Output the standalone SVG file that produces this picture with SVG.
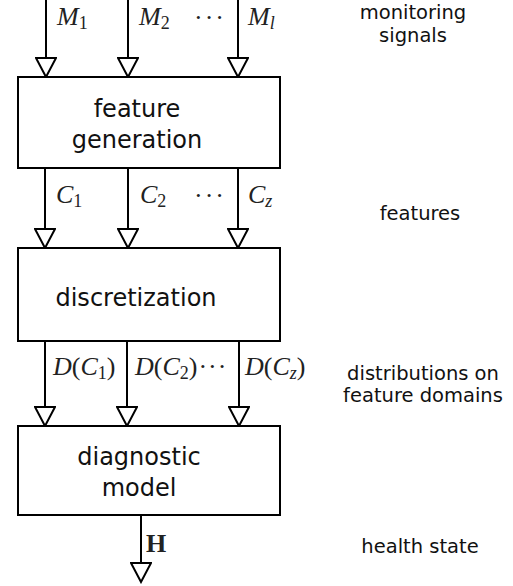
<svg xmlns="http://www.w3.org/2000/svg" width="513" height="586" viewBox="0 0 513 586">
<style>
.box{fill:#fff;stroke:#000;stroke-width:2}
.conn{stroke:#000;stroke-width:2;fill:none;marker-end:url(#tri)}
.lbl{font-family:"DejaVu Sans",sans-serif;font-size:24px;fill:#111;text-anchor:middle}
.side{font-family:"DejaVu Sans",sans-serif;font-size:19.5px;fill:#111;text-anchor:middle}
.math{font-family:"Liberation Serif",serif;font-size:26px;fill:#222;font-style:italic}
.sub{font-size:18px;font-style:normal}
.subi{font-size:18px;font-style:italic}
.up{font-style:normal}
</style>
<defs>
<marker id="tri" viewBox="-1 -11 22 22" refX="19" refY="0" markerWidth="22" markerHeight="22" markerUnits="userSpaceOnUse" orient="auto">
<path d="M0,-10 L0,10 L19,0 Z" fill="#fff" stroke="#000" stroke-width="2" stroke-linejoin="miter"/>
</marker>
</defs>
<g id="connectors">
<line class="conn" x1="46" y1="0" x2="46" y2="77"/>
<line class="conn" x1="128" y1="0" x2="128" y2="77"/>
<line class="conn" x1="238" y1="0" x2="238" y2="77"/>
<line class="conn" x1="45" y1="168" x2="45" y2="248"/>
<line class="conn" x1="128" y1="168" x2="128" y2="248"/>
<line class="conn" x1="238" y1="168" x2="238" y2="248"/>
<line class="conn" x1="45" y1="341" x2="45" y2="426"/>
<line class="conn" x1="127" y1="341" x2="127" y2="426"/>
<line class="conn" x1="239" y1="341" x2="239" y2="426"/>
<line class="conn" x1="141" y1="515" x2="141" y2="582"/>
</g>
<g id="feature-generation">
<rect class="box" x="18" y="77" width="262" height="91"/>
<text class="lbl" x="137" y="117">feature</text>
<text class="lbl" x="137" y="148">generation</text>
</g>
<g id="discretization">
<rect class="box" x="18" y="248" width="262" height="93"/>
<text class="lbl" x="136" y="306">discretization</text>
</g>
<g id="diagnostic-model">
<rect class="box" x="18" y="426" width="262" height="89"/>
<text class="lbl" x="139" y="465">diagnostic</text>
<text class="lbl" x="139" y="496">model</text>
</g>
<g id="edge-labels">
<text class="math" x="57" y="25">M<tspan class="sub" dy="4">1</tspan></text>
<text class="math" x="139" y="25">M<tspan class="sub" dy="4">2</tspan></text>
<text class="math up" x="194" y="26" letter-spacing="2">···</text>
<text class="math" x="248" y="25">M<tspan class="subi" dy="4">l</tspan></text>
<text class="math" x="56" y="203">C<tspan class="sub" dy="4">1</tspan></text>
<text class="math" x="140" y="203">C<tspan class="sub" dy="4">2</tspan></text>
<text class="math up" x="194" y="204" letter-spacing="2">···</text>
<text class="math" x="248" y="203">C<tspan class="subi" dy="4">z</tspan></text>
<text class="math" x="53" y="375">D<tspan class="up">(</tspan>C<tspan class="sub" dy="4">1</tspan><tspan class="up" dy="-4">)</tspan></text>
<text class="math" x="135" y="375">D<tspan class="up">(</tspan>C<tspan class="sub" dy="4">2</tspan><tspan class="up" dy="-4" letter-spacing="1">)···</tspan></text>
<text class="math" x="245" y="375">D<tspan class="up">(</tspan>C<tspan class="subi" dy="4">z</tspan><tspan class="up" dy="-4">)</tspan></text>
<text class="math up" x="146" y="552" font-weight="bold" font-size="27">H</text>
</g>
<g id="side-labels">
<text class="side" x="413" y="19">monitoring</text>
<text class="side" x="413" y="42">signals</text>
<text class="side" x="420" y="220">features</text>
<text class="side" x="423" y="380">distributions on</text>
<text class="side" x="423" y="402">feature domains</text>
<text class="side" x="420" y="553">health state</text>
</g>
</svg>
